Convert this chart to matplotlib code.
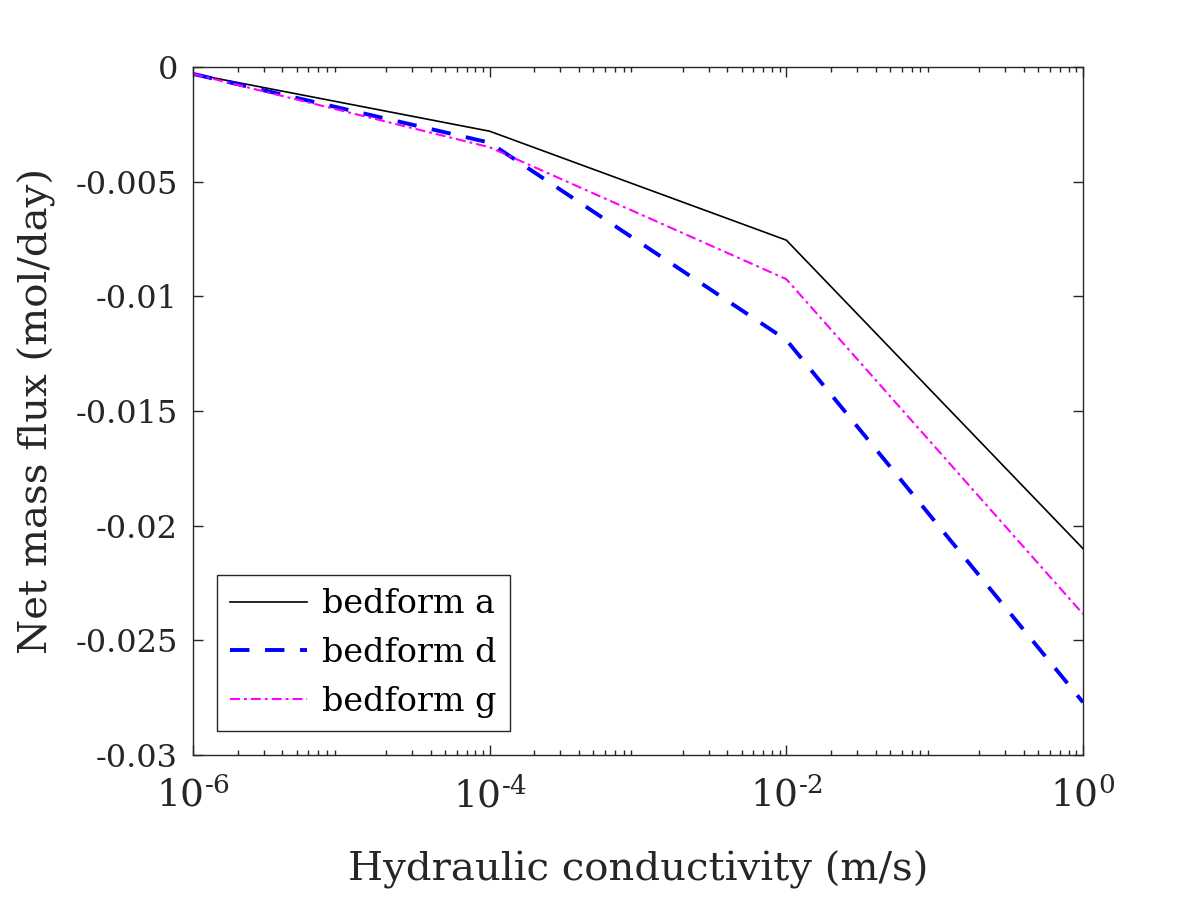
import matplotlib
matplotlib.use('Agg')
import matplotlib.pyplot as plt
from matplotlib.ticker import FixedLocator, LogLocator, NullFormatter

# hydraulic conductivity (m/s) and net mass flux (mol/day)
k_values = [1e-6, 1e-4, 1e-2, 1e0]
flux_a = [-0.0003, -0.0028, -0.00755, -0.0210]
flux_d = [-0.0003, -0.0033, -0.0119, -0.0277]
flux_g = [-0.0003, -0.0035, -0.00925, -0.02385]
x_tick_labels = [r'$10^{\text{-6}}$', r'$10^{\text{-4}}$', r'$10^{\text{-2}}$', r'$10^{0}$']
y_ticks = [-0.03, -0.025, -0.02, -0.015, -0.01, -0.005, 0]
y_tick_labels = ['-0.03', '-0.025', '-0.02', '-0.015', '-0.01', '-0.005', '0']

plt.rcParams['font.family'] = ['DejaVu Serif']
plt.rcParams['mathtext.fontset'] = 'dejavuserif'
text_c = '#262626'

fig = plt.figure(figsize=(11.96, 8.97), dpi=100)
ax = fig.add_axes([0.1614, 0.1583, 0.7441, 0.7670])

ax.plot(k_values, flux_a, c='k', lw=1.2, label='bedform a')
ax.plot(k_values, flux_d, c='b', lw=2.8, ls=(0, (5, 4)), label='bedform d')
ax.plot(k_values, flux_g, c='magenta', lw=1.5, ls=(0, (4.8, 1.9, 1.4, 1.9)), label='bedform g')

ax.set_xscale('log')
ax.set_xlim(1e-6, 1)
ax.set_ylim(-0.03, 0)
ax.xaxis.set_major_locator(FixedLocator(k_values))
ax.xaxis.set_minor_locator(LogLocator(base=10, subs=range(2, 10), numticks=20))
ax.xaxis.set_minor_formatter(NullFormatter())
ax.set_xticklabels(x_tick_labels)
ax.set_yticks(y_ticks)
ax.set_yticklabels(y_tick_labels)

ax.tick_params(which='both', direction='in', top=True, right=True,
               colors=text_c, width=1)
ax.tick_params(which='major', length=7)
ax.tick_params(which='minor', length=3.5)
ax.tick_params(axis='y', labelsize=23, pad=11)
ax.tick_params(axis='x', labelsize=27, pad=16)
for sp in ax.spines.values():
    sp.set_color(text_c)
    sp.set_linewidth(1)

ax.set_xlabel('Hydraulic conductivity (m/s)', fontsize=29, color=text_c, labelpad=26)
ax.set_ylabel('Net mass flux (mol/day)', fontsize=29, color=text_c, labelpad=14)

leg = ax.legend(loc='lower left', bbox_to_anchor=(0.027, 0.035), borderaxespad=0,
                fontsize=24, fancybox=False, framealpha=1, edgecolor=text_c,
                handlelength=2.3, handletextpad=0.45, labelspacing=0.5, borderpad=0.4)
leg.get_frame().set_linewidth(1)

plt.savefig('out.png')
plt.close()
